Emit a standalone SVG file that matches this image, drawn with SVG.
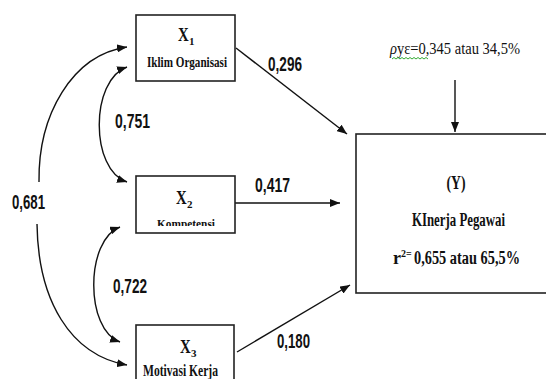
<svg xmlns="http://www.w3.org/2000/svg" width="546" height="379" viewBox="0 0 546 379">
<defs>
<style>
.box{fill:#fff;stroke:#222;stroke-width:1.6}
.ln{fill:none;stroke:#111;stroke-width:1.4}
.t{font-family:"Liberation Serif","Times New Roman",serif;font-weight:bold;fill:#111}
.n{font-family:"Liberation Sans",Arial,sans-serif;font-weight:bold;font-size:20px;fill:#111}
.r{font-family:"Liberation Serif","Times New Roman",serif;font-size:17px;fill:#111}
</style>
<marker id="ah" viewBox="0 0 10 8" refX="10" refY="4" markerWidth="10" markerHeight="8" markerUnits="userSpaceOnUse" orient="auto-start-reverse">
<path d="M0,0 L10,4 L0,8 z" fill="#111"/>
</marker>
<clipPath id="c2"><rect x="136" y="176" width="99" height="50"/></clipPath>
</defs>
<g id="connectors">
<path class="ln" d="M236,48 L347,134" marker-end="url(#ah)"/>
<path class="ln" d="M235,203 L340,203" marker-end="url(#ah)"/>
<path class="ln" d="M237,352 L350,285" marker-end="url(#ah)"/>
<path class="ln" d="M455,80 L455,132" marker-end="url(#ah)"/>
<path class="ln" d="M39,182 C38,115 72,55 127,47" marker-end="url(#ah)"/>
<path class="ln" d="M37,224 C38,300 70,355 127,365" marker-end="url(#ah)"/>
<path class="ln" d="M127,67 C90,80 90,170 127,182" marker-start="url(#ah)" marker-end="url(#ah)"/>
<path class="ln" d="M120,227 C85,240 85,330 120,342" marker-start="url(#ah)" marker-end="url(#ah)"/>
<text class="n" x="268" y="71" textLength="34" lengthAdjust="spacingAndGlyphs">0,296</text>
<text class="n" x="255" y="192" textLength="35" lengthAdjust="spacingAndGlyphs">0,417</text>
<text class="n" x="277" y="348" textLength="33" lengthAdjust="spacingAndGlyphs">0,180</text>
<text class="n" x="12" y="209" textLength="33" lengthAdjust="spacingAndGlyphs">0,681</text>
<text class="n" x="115" y="128" textLength="35" lengthAdjust="spacingAndGlyphs">0,751</text>
<text class="n" x="113" y="293" textLength="34" lengthAdjust="spacingAndGlyphs">0,722</text>
</g>
<g id="error">
<text class="r" x="390" y="54" textLength="130" lengthAdjust="spacingAndGlyphs"><tspan font-style="italic">ρ</tspan>yε=0,345 atau 34,5%</text>
<path d="M392,59 l2,-1.5 l2,1.5 l2,-1.5 l2,1.5 l2,-1.5 l2,1.5 l2,-1.5 l2,1.5 l2,-1.5 l2,1.5 l2,-1.5 l2,1.5 l2,-1.5 l2,1.5 l2,-1.5 l2,1.5 l2,-1.5 l2,1.5" fill="none" stroke="#3a3" stroke-width="1"/>
</g>
<g id="X1">
<rect class="box" x="136" y="15" width="99" height="66"/>
<text class="t" font-size="19" transform="translate(178,41) scale(0.78,1)">X</text>
<text class="t" x="189" y="45" font-size="11">1</text>
<text class="t" x="147" y="67" font-size="15" textLength="80" lengthAdjust="spacingAndGlyphs">Iklim Organisasi</text>
</g>
<g id="X2">
<rect class="box" x="136" y="176" width="99" height="57"/>
<text class="t" font-size="19" transform="translate(176,204) scale(0.78,1)">X</text>
<text class="t" x="187" y="208" font-size="11">2</text>
<text class="t" x="157" y="228" font-size="13" textLength="58" lengthAdjust="spacingAndGlyphs" clip-path="url(#c2)">Kompetensi</text>
</g>
<g id="X3">
<rect class="box" x="136" y="325" width="98" height="70"/>
<text class="t" font-size="19" transform="translate(180,353) scale(0.78,1)">X</text>
<text class="t" x="191" y="357" font-size="11">3</text>
<text class="t" x="143" y="376" font-size="16" textLength="75" lengthAdjust="spacingAndGlyphs">Motivasi Kerja</text>
</g>
<g id="Y">
<rect class="box" x="356" y="134" width="195" height="159"/>
<text class="t" x="456" y="189" font-size="19" text-anchor="middle" textLength="19" lengthAdjust="spacingAndGlyphs">(Y)</text>
<text class="t" x="412" y="226" font-size="18" textLength="93" lengthAdjust="spacingAndGlyphs">KInerja Pegawai</text>
<text class="t" x="393" y="264" font-size="18">r</text>
<text class="t" x="401" y="257" font-size="10">2</text>
<text class="t" x="406" y="257" font-size="10">=</text>
<text class="t" x="414" y="264" font-size="18" textLength="106" lengthAdjust="spacingAndGlyphs">0,655 atau 65,5%</text>
</g>
</svg>
